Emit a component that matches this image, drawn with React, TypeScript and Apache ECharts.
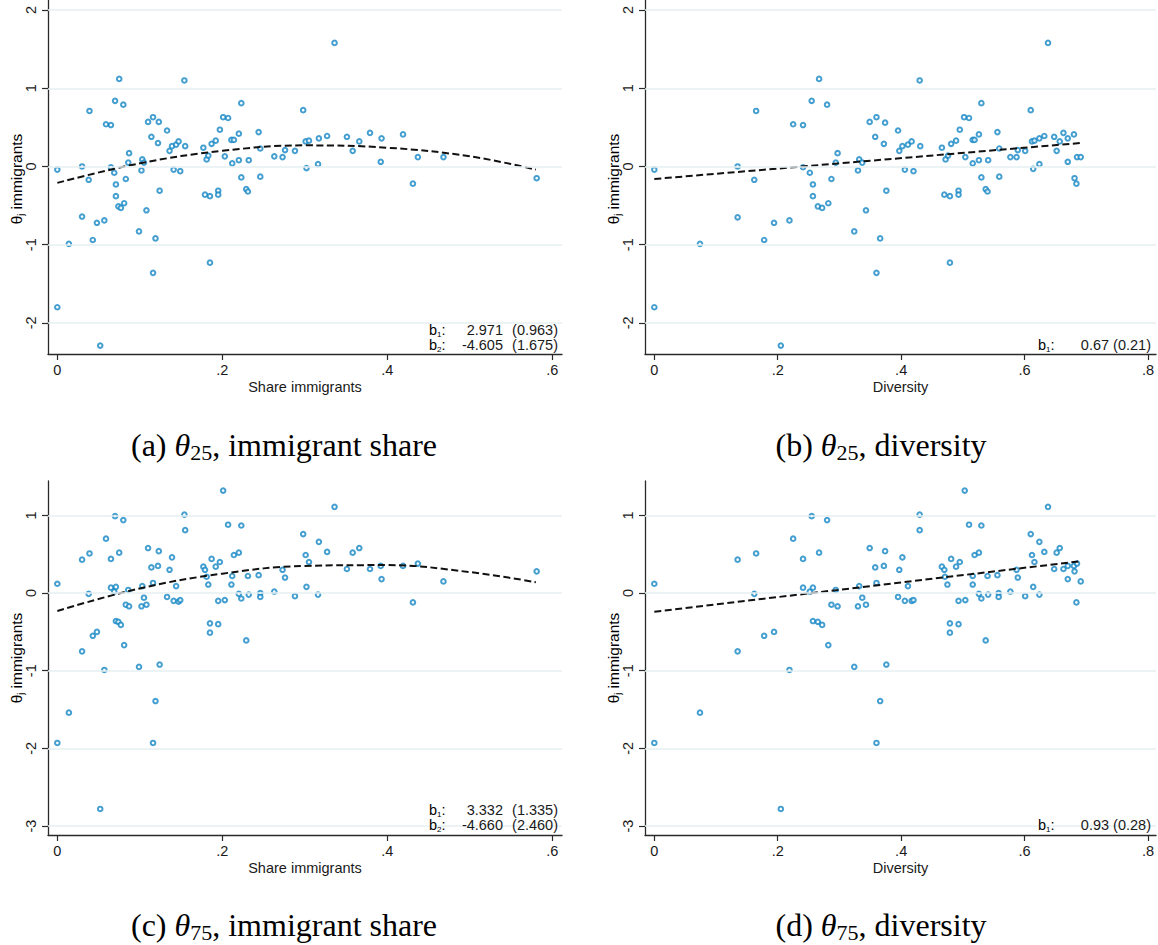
import React, { useEffect, useRef } from 'react';
import * as echarts from 'echarts';

// ---- tick values ----
const yTicksTop = [-2, -1, 0, 1, 2];
const yTicksBottom = [-3, -2, -1, 0, 1];
const shareTicks = [0, 0.2, 0.4, 0.6];
const diversityTicks = [0, 0.2, 0.4, 0.6, 0.8];

// ---- (a) theta25 vs share immigrants ----
const shareTheta25: number[][] = [
  [0, -0.04], [0, -1.8], [0.014, -0.99], [0.03, 0.0], [0.03, -0.64], [0.039, 0.71], [0.038, -0.17], [0.043, -0.94],
  [0.048, -0.72], [0.052, -2.29], [0.057, -0.69], [0.059, 0.54], [0.065, 0.53], [0.065, -0.01], [0.07, 0.84], [0.069, -0.08],
  [0.071, -0.23], [0.071, -0.38], [0.075, 1.12], [0.074, -0.51], [0.077, -0.53], [0.08, 0.79], [0.081, -0.47], [0.083, -0.16],
  [0.086, 0.05], [0.087, 0.17], [0.099, -0.83], [0.102, -0.05], [0.103, 0.09], [0.105, 0.05], [0.108, -0.56], [0.11, 0.57],
  [0.114, 0.38], [0.116, 0.63], [0.116, -1.36], [0.119, -0.92], [0.122, 0.3], [0.123, 0.57], [0.124, -0.31], [0.133, 0.46],
  [0.136, 0.2], [0.139, 0.26], [0.141, -0.04], [0.144, 0.28], [0.147, 0.32], [0.149, -0.06], [0.154, 1.1], [0.155, 0.26],
  [0.177, 0.24], [0.179, -0.36], [0.181, 0.09], [0.183, 0.14], [0.185, -0.38], [0.185, -1.23], [0.187, 0.29], [0.192, 0.33],
  [0.195, -0.31], [0.195, -0.36], [0.197, 0.47], [0.201, 0.63], [0.203, 0.13], [0.207, 0.62], [0.211, 0.34], [0.214, 0.34],
  [0.212, 0.04], [0.22, 0.42], [0.22, 0.08], [0.223, 0.81], [0.223, -0.14], [0.229, -0.29], [0.231, -0.32], [0.232, 0.08],
  [0.244, 0.44], [0.246, 0.23], [0.246, -0.13], [0.263, 0.13], [0.273, 0.12], [0.276, 0.21], [0.288, 0.2], [0.298, 0.72],
  [0.302, -0.02], [0.301, 0.32], [0.305, 0.33], [0.317, 0.36], [0.316, 0.03], [0.327, 0.39], [0.336, 1.58], [0.351, 0.38],
  [0.358, 0.2], [0.366, 0.32], [0.379, 0.43], [0.392, 0.06], [0.393, 0.36], [0.419, 0.41], [0.431, -0.22], [0.437, 0.12],
  [0.468, 0.12], [0.581, -0.15],
];

// ---- (b) theta25 vs diversity ----
const diversityTheta25: number[][] = [
  [0, -0.04], [0, -1.8], [0.074, -0.99], [0.135, 0.0], [0.135, -0.65], [0.162, -0.17], [0.165, 0.71], [0.178, -0.94],
  [0.194, -0.72], [0.205, -2.29], [0.219, -0.69], [0.225, 0.54], [0.241, 0.53], [0.241, -0.01], [0.252, -0.08], [0.255, 0.84],
  [0.257, -0.23], [0.257, -0.38], [0.267, 1.12], [0.265, -0.51], [0.272, -0.53], [0.28, 0.79], [0.282, -0.47], [0.287, -0.16],
  [0.294, 0.05], [0.297, 0.17], [0.324, -0.83], [0.33, -0.05], [0.332, 0.09], [0.337, 0.05], [0.343, -0.56], [0.349, 0.57],
  [0.358, 0.38], [0.36, 0.63], [0.36, -1.36], [0.366, -0.92], [0.372, 0.29], [0.374, 0.56], [0.376, -0.31], [0.395, 0.46],
  [0.397, 0.2], [0.402, 0.26], [0.406, -0.04], [0.411, 0.28], [0.417, 0.32], [0.42, -0.06], [0.43, 1.1], [0.431, 0.26],
  [0.466, 0.24], [0.47, -0.36], [0.472, 0.09], [0.476, 0.14], [0.479, -0.38], [0.479, -1.23], [0.481, 0.29], [0.489, 0.33],
  [0.493, -0.31], [0.493, -0.36], [0.495, 0.47], [0.502, 0.63], [0.504, 0.12], [0.51, 0.62], [0.516, 0.34], [0.519, 0.34],
  [0.516, 0.04], [0.526, 0.41], [0.526, 0.08], [0.53, 0.81], [0.53, -0.14], [0.537, -0.29], [0.54, -0.32], [0.541, 0.08],
  [0.556, 0.44], [0.559, 0.23], [0.559, -0.13], [0.577, 0.12], [0.587, 0.12], [0.589, 0.21], [0.601, 0.2], [0.61, 0.72],
  [0.614, -0.03], [0.612, 0.32], [0.616, 0.33], [0.624, 0.03], [0.624, 0.36], [0.632, 0.39], [0.638, 1.58], [0.648, 0.38],
  [0.652, 0.2], [0.657, 0.32], [0.663, 0.43], [0.67, 0.06], [0.67, 0.36], [0.68, 0.41], [0.681, -0.15], [0.684, -0.22],
  [0.685, 0.12], [0.691, 0.12],
];

// ---- (c) theta75 vs share immigrants ----
const shareTheta75: number[][] = [
  [0, 0.12], [0, -1.93], [0.014, -1.54], [0.03, 0.43], [0.03, -0.75], [0.039, 0.51], [0.038, -0.01], [0.043, -0.55],
  [0.048, -0.5], [0.052, -2.78], [0.057, -0.99], [0.059, 0.7], [0.065, 0.44], [0.065, 0.07], [0.07, 0.99], [0.069, 0.02],
  [0.071, 0.08], [0.071, -0.36], [0.075, 0.52], [0.074, -0.37], [0.077, -0.41], [0.08, 0.94], [0.081, -0.67], [0.083, -0.15],
  [0.086, 0.04], [0.087, -0.17], [0.099, -0.95], [0.102, -0.17], [0.103, 0.09], [0.105, -0.06], [0.108, -0.15], [0.11, 0.58],
  [0.114, 0.33], [0.116, 0.13], [0.116, -1.93], [0.119, -1.39], [0.122, 0.35], [0.123, 0.54], [0.124, -0.92], [0.133, -0.05],
  [0.136, 0.3], [0.139, 0.46], [0.141, -0.1], [0.144, 0.09], [0.147, -0.11], [0.149, -0.09], [0.154, 1.01], [0.155, 0.81],
  [0.177, 0.34], [0.179, 0.3], [0.181, 0.21], [0.183, 0.11], [0.185, -0.39], [0.185, -0.51], [0.187, 0.44], [0.192, 0.34],
  [0.195, -0.1], [0.195, -0.4], [0.197, 0.4], [0.201, 1.32], [0.203, -0.09], [0.207, 0.88], [0.211, 0.11], [0.214, 0.49],
  [0.212, 0.22], [0.22, 0.52], [0.22, -0.01], [0.223, 0.87], [0.223, -0.07], [0.229, -0.61], [0.231, 0.22], [0.232, -0.02],
  [0.244, 0.23], [0.246, 0.0], [0.246, -0.05], [0.263, 0.02], [0.273, 0.3], [0.276, 0.2], [0.288, -0.04], [0.298, 0.76],
  [0.302, 0.08], [0.301, 0.49], [0.305, 0.4], [0.317, 0.66], [0.316, -0.02], [0.327, 0.53], [0.336, 1.11], [0.351, 0.31],
  [0.358, 0.52], [0.366, 0.58], [0.379, 0.31], [0.392, 0.35], [0.393, 0.18], [0.419, 0.35], [0.431, -0.12], [0.437, 0.38],
  [0.468, 0.15], [0.581, 0.28],
];

// ---- (d) theta75 vs diversity ----
const diversityTheta75: number[][] = [
  [0, 0.12], [0, -1.93], [0.074, -1.54], [0.135, 0.43], [0.135, -0.75], [0.162, -0.01], [0.165, 0.51], [0.178, -0.55],
  [0.194, -0.5], [0.205, -2.78], [0.219, -0.99], [0.225, 0.7], [0.241, 0.44], [0.241, 0.07], [0.252, 0.02], [0.255, 0.99],
  [0.257, 0.07], [0.257, -0.36], [0.267, 0.52], [0.265, -0.37], [0.272, -0.41], [0.28, 0.94], [0.282, -0.67], [0.287, -0.15],
  [0.294, 0.04], [0.297, -0.17], [0.324, -0.95], [0.33, -0.17], [0.332, 0.09], [0.337, -0.06], [0.343, -0.15], [0.349, 0.58],
  [0.358, 0.33], [0.36, 0.13], [0.36, -1.93], [0.366, -1.39], [0.372, 0.35], [0.374, 0.54], [0.376, -0.92], [0.395, -0.05],
  [0.397, 0.3], [0.402, 0.46], [0.406, -0.1], [0.411, 0.09], [0.417, -0.1], [0.42, -0.09], [0.43, 1.01], [0.43, 0.81],
  [0.466, 0.34], [0.47, 0.3], [0.471, 0.21], [0.475, 0.11], [0.479, -0.39], [0.479, -0.51], [0.481, 0.44], [0.489, 0.34],
  [0.493, -0.1], [0.493, -0.4], [0.495, 0.4], [0.503, 1.32], [0.504, -0.09], [0.51, 0.88], [0.516, 0.11], [0.519, 0.49],
  [0.516, 0.22], [0.526, 0.52], [0.526, -0.01], [0.53, 0.87], [0.53, -0.07], [0.537, -0.61], [0.54, 0.22], [0.541, -0.02],
  [0.556, 0.23], [0.558, 0.0], [0.558, -0.05], [0.577, 0.02], [0.587, 0.3], [0.589, 0.2], [0.601, -0.04], [0.61, 0.76],
  [0.614, 0.08], [0.612, 0.49], [0.616, 0.4], [0.624, -0.02], [0.624, 0.66], [0.632, 0.53], [0.638, 1.11], [0.648, 0.31],
  [0.652, 0.52], [0.657, 0.58], [0.663, 0.31], [0.67, 0.35], [0.67, 0.18], [0.68, 0.35], [0.681, 0.28], [0.684, -0.12],
  [0.685, 0.38], [0.691, 0.15],
];

// ---- fitted lines ----
const fitShareTheta25 = [[0, -0.21], [0.1, 0.04], [0.2, 0.2], [0.3, 0.27], [0.4, 0.24], [0.5, 0.13], [0.58, -0.04]];
const fitDiversityTheta25 = [[0, -0.16], [0.69, 0.3]];
const fitShareTheta75 = [[0, -0.23], [0.1, 0.06], [0.2, 0.25], [0.3, 0.35], [0.4, 0.36], [0.5, 0.27], [0.58, 0.14]];
const fitDiversityTheta75 = [[0, -0.24], [0.69, 0.41]];

// ---- coefficient annotations ----
const coefA = [['1', '2.971', '(0.963)'], ['2', '-4.605', '(1.675)']];
const coefB = [['1', '0.67 (0.21)']];
const coefC = [['1', '3.332', '(1.335)'], ['2', '-4.660', '(2.460)']];
const coefD = [['1', '0.93 (0.28)']];

const captions = [
  { letter: '(a) ', sub: '25', rest: ', immigrant share' },
  { letter: '(b) ', sub: '25', rest: ', diversity' },
  { letter: '(c) ', sub: '75', rest: ', immigrant share' },
  { letter: '(d) ', sub: '75', rest: ', diversity' },
];

const xNames = ['Share immigrants', 'Diversity', 'Share immigrants', 'Diversity'];

const SANS = '"Liberation Sans", Arial, Helvetica, sans-serif';
const SERIF = '"Liberation Serif", "Times New Roman", serif';
const POINT = '#1587c4';
const GRIDLINE = '#e6eff0';
const AXIS = '#2a2a2a';

export default function App() {
  const ref = useRef<HTMLDivElement>(null);

  useEffect(() => {
    if (!ref.current) return;
    const chart = echarts.init(ref.current, null, { renderer: 'svg' });

    const gridBoxes = [
      { left: 48, top: 0, width: 514, height: 354 },
      { left: 645, top: 0, width: 511, height: 354 },
      { left: 48, top: 481, width: 514, height: 354 },
      { left: 645, top: 481, width: 511, height: 354 },
    ];
    const xRanges = [
      [-0.0113, 0.6117], [-0.0151, 0.813], [-0.0113, 0.6117], [-0.0151, 0.813],
    ];
    const yRanges = [
      [-2.398, 2.129], [-2.398, 2.129], [-3.115, 1.443], [-3.115, 1.443],
    ];
    const xTickSets = [shareTicks, diversityTicks, shareTicks, diversityTicks];
    const yTickSets = [yTicksTop, yTicksTop, yTicksBottom, yTicksBottom];
    const scatters = [shareTheta25, diversityTheta25, shareTheta75, diversityTheta75];
    const fits = [fitShareTheta25, fitDiversityTheta25, fitShareTheta75, fitDiversityTheta75];

    const fmtX = (v: number) => (v === 0 ? '0' : String(Math.round(v * 10) / 10).replace(/^0\./, '.').replace(/^-0\./, '-.'));

    const xAxis = gridBoxes.map((_, i) => ({
      type: 'value',
      gridIndex: i,
      min: xRanges[i][0],
      max: xRanges[i][1],
      name: xNames[i],
      nameLocation: 'middle',
      nameGap: 25,
      nameTextStyle: { fontFamily: SANS, fontSize: 14.5, color: '#1a1a1a' },
      axisLine: { show: true, onZero: false, lineStyle: { color: AXIS, width: 1.3 } },
      axisTick: { show: true, length: 6, customValues: xTickSets[i], lineStyle: { color: AXIS, width: 1.2 } },
      axisLabel: {
        customValues: xTickSets[i],
        formatter: fmtX,
        fontFamily: SANS,
        fontSize: 14.5,
        color: '#1a1a1a',
        margin: 8,
      },
      splitLine: { show: false },
    }));

    const yAxis = gridBoxes.map((_, i) => ({
      type: 'value',
      gridIndex: i,
      min: yRanges[i][0],
      max: yRanges[i][1],
      axisLine: { show: true, onZero: false, lineStyle: { color: AXIS, width: 1.3 } },
      axisTick: { show: true, length: 6, customValues: yTickSets[i], lineStyle: { color: AXIS, width: 1.2 } },
      axisLabel: {
        customValues: yTickSets[i],
        rotate: 90,
        formatter: (v: number) => String(v),
        fontFamily: SANS,
        fontSize: 14.5,
        color: '#1a1a1a',
        margin: 10,
      },
      splitLine: { show: false },
    }));

    const series: any[] = [];
    gridBoxes.forEach((_, i) => {
      series.push({
        type: 'line',
        xAxisIndex: i,
        yAxisIndex: i,
        data: [],
        z: 1,
        silent: true,
        markLine: {
          silent: true,
          symbol: 'none',
          label: { show: false },
          lineStyle: { color: GRIDLINE, width: 1.5, type: 'solid' },
          data: yTickSets[i].map((v) => ({ yAxis: v })),
        },
      });
      series.push({
        type: 'scatter',
        xAxisIndex: i,
        yAxisIndex: i,
        data: scatters[i],
        symbol: 'emptyCircle',
        symbolSize: 4.6,
        z: 3,
        itemStyle: { color: POINT, borderColor: POINT, borderWidth: 1.15 },
      });
      series.push({
        type: 'line',
        xAxisIndex: i,
        yAxisIndex: i,
        data: fits[i],
        smooth: fits[i].length > 2 ? 0.4 : false,
        showSymbol: false,
        z: 4,
        lineStyle: { color: '#111', width: 2, type: [7, 3.5] },
      });
    });

    const richSans = {
      b: { fontFamily: SANS, fontSize: 14.5, color: '#1a1a1a', lineHeight: 16, verticalAlign: 'middle' },
      s: { fontFamily: SANS, fontSize: 8, color: '#1a1a1a', lineHeight: 8, verticalAlign: 'bottom' },
    };

    const coefText = (rows: string[][], xLeft: number, xNum: number, xPar: number | null, yFirst: number) => {
      const out: any[] = [];
      rows.forEach((r, k) => {
        const y = yFirst + k * 15;
        out.push({
          type: 'text', x: xLeft, y, z: 100,
          style: { text: `{b|b}{s|${r[0]}}{b|:}`, rich: richSans, align: 'left', verticalAlign: 'middle' },
        });
        out.push({
          type: 'text', x: xNum, y, z: 100,
          style: { text: r[1], fontFamily: SANS, fontSize: 14.5, fill: '#1a1a1a', align: 'right', verticalAlign: 'middle' },
        });
        if (xPar !== null && r[2]) {
          out.push({
            type: 'text', x: xPar, y, z: 100,
            style: { text: r[2], fontFamily: SANS, fontSize: 14.5, fill: '#1a1a1a', align: 'right', verticalAlign: 'middle' },
          });
        }
      });
      return out;
    };

    const richSerif = {
      r: { fontFamily: SERIF, fontSize: 32, color: '#111', lineHeight: 36, verticalAlign: 'middle' },
      t: { fontFamily: SERIF, fontSize: 32, fontStyle: 'italic', color: '#111', lineHeight: 36, verticalAlign: 'middle' },
      s: { fontFamily: SERIF, fontSize: 22, color: '#111', lineHeight: 21, verticalAlign: 'bottom' },
    };
    const captionPos = [[284, 445], [881, 445], [284, 925], [881, 925]];
    const captionEls = captions.map((c, i) => ({
      type: 'text', x: captionPos[i][0], y: captionPos[i][1], z: 100,
      style: {
        text: `{r|${c.letter}}{t|θ}{s|${c.sub}}{r|${c.rest}}`,
        rich: richSerif, align: 'center', verticalAlign: 'middle',
      },
    }));

    const richTitle = {
      b: { fontFamily: SANS, fontSize: 15.5, color: '#1a1a1a', lineHeight: 18, verticalAlign: 'middle' },
      s: { fontFamily: SANS, fontSize: 9, color: '#1a1a1a', lineHeight: 9, verticalAlign: 'bottom' },
    };
    const yTitlePos = [[16, 179], [613, 179], [16, 658], [613, 658]];
    const yTitleEls = yTitlePos.map((p) => ({
      type: 'text', x: p[0], y: p[1], rotation: Math.PI / 2, z: 100,
      style: { text: '{b|θ}{s|j}{b| immigrants}', rich: richTitle, align: 'center', verticalAlign: 'middle' },
    }));

    const graphic = [
      ...captionEls,
      ...yTitleEls,
      ...coefText(coefA, 429, 503, 558, 330),
      ...coefText(coefB, 1038, 1151, null, 345),
      ...coefText(coefC, 429, 503, 558, 810),
      ...coefText(coefD, 1038, 1151, null, 825),
    ];

    chart.setOption({
      animation: false,
      backgroundColor: '#ffffff',
      grid: gridBoxes.map((g) => ({ ...g, containLabel: false })),
      xAxis,
      yAxis,
      series,
      graphic,
    } as any);

    return () => chart.dispose();
  }, []);

  return (
    <div
      ref={ref}
      style={{ position: 'absolute', left: 0, top: 0, width: 1158, height: 945, background: '#fff' }}
    />
  );
}
